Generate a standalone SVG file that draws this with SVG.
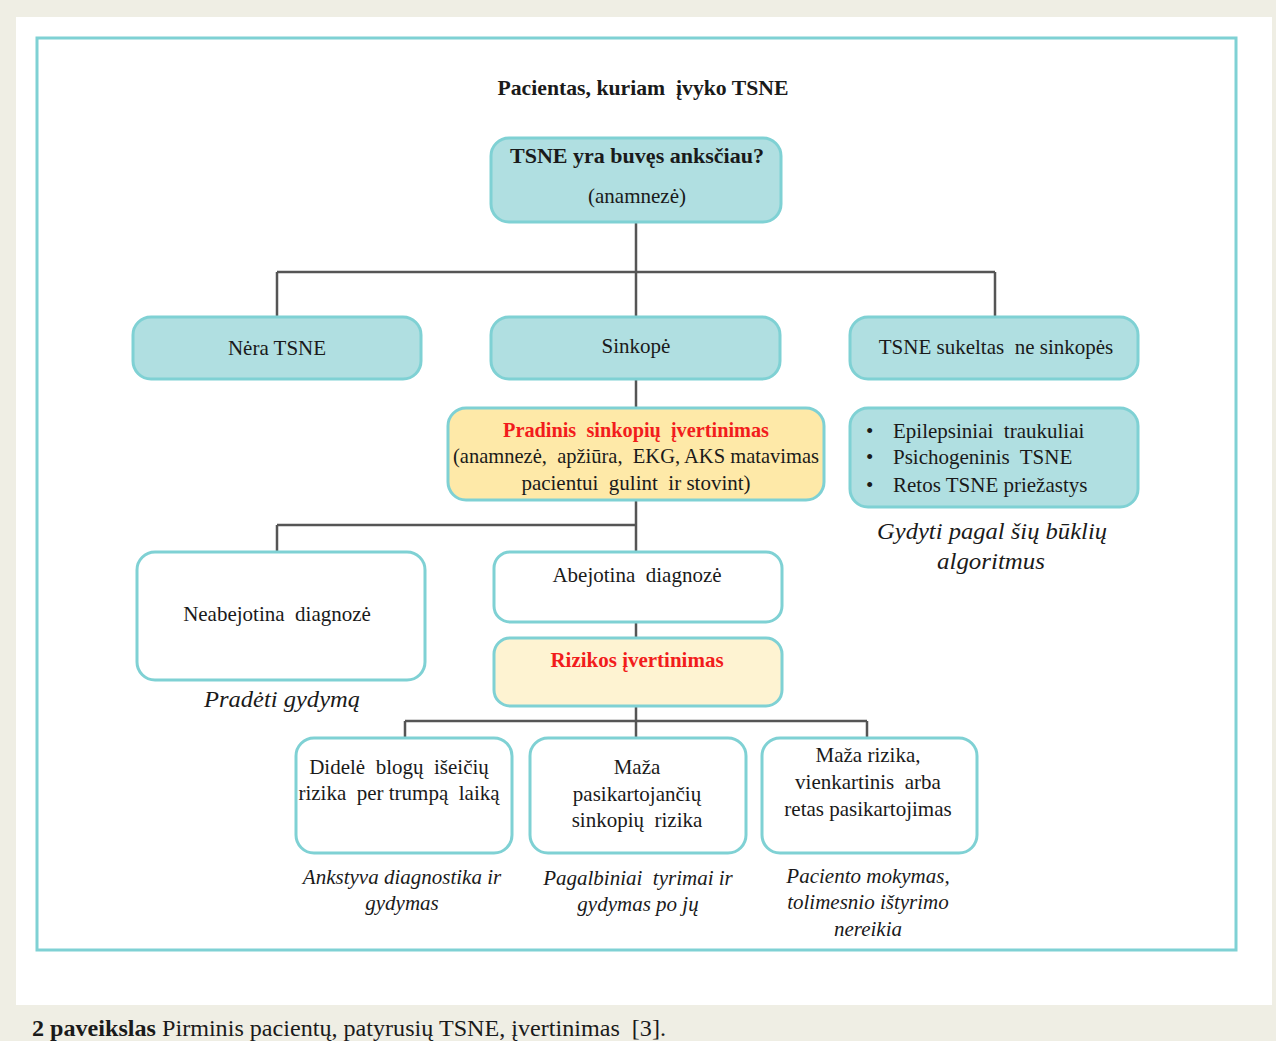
<svg xmlns="http://www.w3.org/2000/svg" width="1276" height="1041" viewBox="0 0 1276 1041" xml:space="preserve">
<style>
text{font-family:"Liberation Serif","Times New Roman",serif;fill:#1a1a1a;text-anchor:middle;white-space:pre}
.t{font-size:21px}
.b{font-weight:bold}
.i{font-style:italic}
.red{fill:#f21c1c;font-weight:bold}
.teal{fill:#b0dfe1;stroke:#7fd1d4;stroke-width:3}
.white{fill:#fff;stroke:#7fd1d4;stroke-width:3}
.yel{fill:#fee9a8;stroke:#7fd1d4;stroke-width:3}
.yel2{fill:#fef3d2;stroke:#7fd1d4;stroke-width:3}
.c{stroke:#555;stroke-width:2.5;fill:none}
.s{text-anchor:start}
</style>
<rect x="0" y="0" width="1276" height="1041" fill="#efeee4"/>
<rect x="16" y="17" width="1256" height="988" fill="#fff"/>
<rect x="37" y="38" width="1199" height="912" fill="none" stroke="#7fd1d4" stroke-width="3"/>
<text class="b" x="643" y="95" font-size="21" textLength="291" lengthAdjust="spacingAndGlyphs">Pacientas, kuriam  įvyko TSNE</text>
<g id="connectors">
<path class="c" d="M636 222V317M277 272H995M277 272V317M995 272V317"/>
<path class="c" d="M636 379V408"/>
<path class="c" d="M636 500V552M277 525H636M277 525V552"/>
<path class="c" d="M636 622V638"/>
<path class="c" d="M636 706V738M405 721H867M405 721V738M867 721V738"/>
</g>
<g id="n-top">
<rect class="teal" x="491" y="138" width="290" height="84" rx="18"/>
<text class="t b" x="637" y="163" textLength="254" lengthAdjust="spacingAndGlyphs">TSNE yra buvęs anksčiau?</text>
<text class="t" x="637" y="203" font-size="19">(anamnezė)</text>
</g>
<g id="n-nera">
<rect class="teal" x="133" y="317" width="288" height="62" rx="18"/>
<text class="t" x="277" y="355">Nėra TSNE</text>
</g>
<g id="n-sinkope">
<rect class="teal" x="491" y="317" width="289" height="62" rx="18"/>
<text class="t" x="636" y="353">Sinkopė</text>
</g>
<g id="n-ne-sinkopes">
<rect class="teal" x="850" y="317" width="288" height="62" rx="18"/>
<text class="t" x="996" y="354">TSNE sukeltas  ne sinkopės</text>
</g>
<g id="n-pradinis">
<rect class="yel" x="448" y="408" width="376" height="92" rx="18"/>
<text class="t red" x="636" y="437" textLength="266" lengthAdjust="spacingAndGlyphs">Pradinis  sinkopių  įvertinimas</text>
<text class="t" x="636" y="463" textLength="366" lengthAdjust="spacingAndGlyphs">(anamnezė,  apžiūra,  EKG, AKS matavimas</text>
<text class="t" x="636" y="490">pacientui  gulint  ir stovint)</text>
</g>
<g id="n-bukles">
<rect class="teal" x="850" y="408" width="288" height="99" rx="18"/>
<text class="t s" x="866" y="438">•</text>
<text class="t s" x="893" y="438">Epilepsiniai  traukuliai</text>
<text class="t s" x="866" y="464">•</text>
<text class="t s" x="893" y="464">Psichogeninis  TSNE</text>
<text class="t s" x="866" y="492">•</text>
<text class="t s" x="893" y="492">Retos TSNE priežastys</text>
<text class="i" x="992" y="539" font-size="24" textLength="230" lengthAdjust="spacingAndGlyphs">Gydyti pagal šių būklių</text>
<text class="i" x="991" y="569" font-size="24" textLength="108" lengthAdjust="spacingAndGlyphs">algoritmus</text>
</g>
<g id="n-neabejotina">
<rect class="white" x="137" y="552" width="288" height="128" rx="18"/>
<text class="t" x="277" y="621">Neabejotina  diagnozė</text>
<text class="i" x="282" y="707" font-size="24" textLength="156" lengthAdjust="spacingAndGlyphs">Pradėti gydymą</text>
</g>
<g id="n-abejotina">
<rect class="white" x="494" y="552" width="288" height="70" rx="16"/>
<text class="t" x="637" y="582">Abejotina  diagnozė</text>
</g>
<g id="n-rizikos">
<rect class="yel2" x="494" y="638" width="288" height="68" rx="16"/>
<text class="t red" x="637" y="667">Rizikos įvertinimas</text>
</g>
<g id="n-didele">
<rect class="white" x="296" y="738" width="216" height="115" rx="18"/>
<text class="t" x="399" y="774">Didelė  blogų  išeičių</text>
<text class="t" x="399" y="800">rizika  per trumpą  laiką</text>
<text class="i" x="402" y="884" font-size="21">Ankstyva diagnostika ir</text>
<text class="i" x="402" y="910" font-size="21">gydymas</text>
</g>
<g id="n-maza">
<rect class="white" x="530" y="738" width="216" height="115" rx="18"/>
<text class="t" x="637" y="774">Maža</text>
<text class="t" x="637" y="801">pasikartojančių</text>
<text class="t" x="637" y="827">sinkopių  rizika</text>
<text class="i" x="638" y="885" font-size="21">Pagalbiniai  tyrimai ir</text>
<text class="i" x="638" y="911" font-size="21">gydymas po jų</text>
</g>
<g id="n-maza-rizika">
<rect class="white" x="762" y="738" width="215" height="115" rx="18"/>
<text class="t" x="868" y="762">Maža rizika,</text>
<text class="t" x="868" y="789">vienkartinis  arba</text>
<text class="t" x="868" y="816">retas pasikartojimas</text>
<text class="i" x="868" y="883" font-size="21">Paciento mokymas,</text>
<text class="i" x="868" y="909" font-size="21">tolimesnio ištyrimo</text>
<text class="i" x="868" y="936" font-size="21">nereikia</text>
</g>
<text class="s" x="32" y="1036" font-size="23" textLength="634" lengthAdjust="spacingAndGlyphs"><tspan font-weight="bold">2 paveikslas</tspan> Pirminis pacientų, patyrusių TSNE, įvertinimas  [3].</text>
</svg>
